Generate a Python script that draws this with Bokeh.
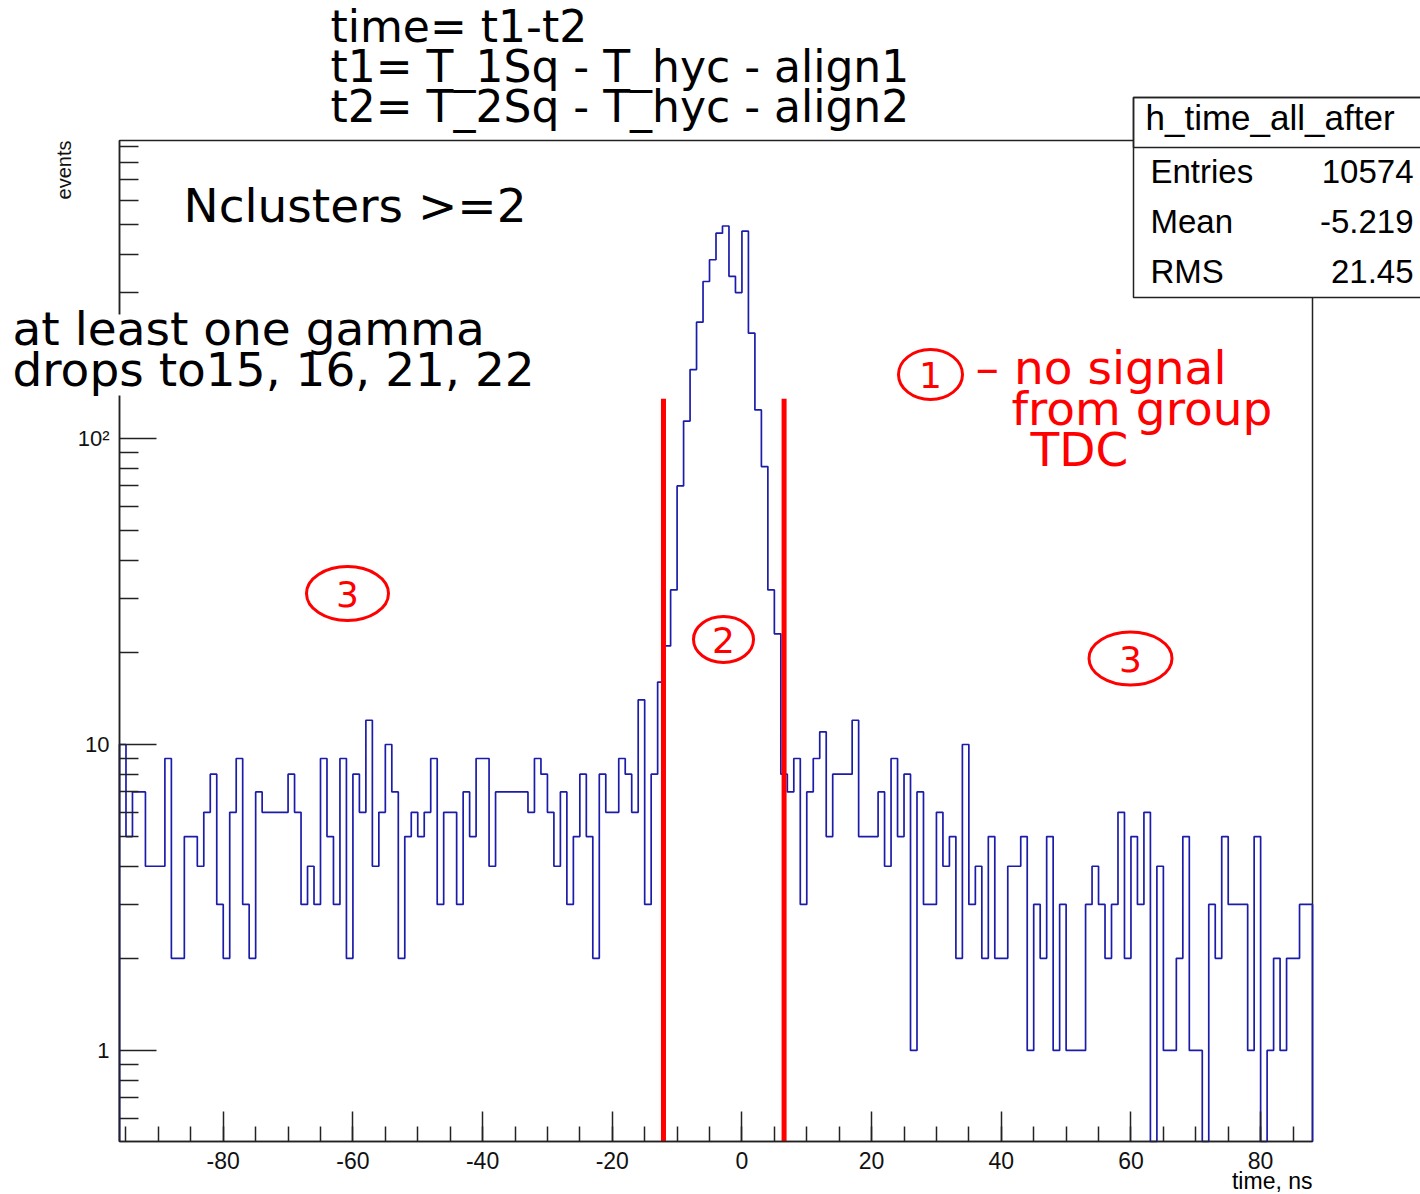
import math
import numpy as np
from bokeh.plotting import figure
from bokeh.models import Label, BoxAnnotation, FixedTicker, CustomJSTickFormatter, Range1d
from bokeh.embed import file_html
from bokeh.resources import INLINE

# ---------------- data ----------------
bin_low = -96          # lower edge of first bin (ns)
bin_width = 1          # ns
counts = [
    10, 5, 7, 7, 4, 4, 4, 9, 2, 2,          # -96 .. -87
    5, 5, 4, 6, 8, 3, 2, 6, 9, 3,           # -86 .. -77
    2, 7, 6, 6, 6, 6, 8, 6, 3, 4,           # -76 .. -67
    3, 9, 5, 3, 9, 2, 8, 6, 12, 4,          # -66 .. -57
    6, 10, 7, 2, 5, 6, 5, 6, 9, 3,          # -56 .. -47
    6, 6, 3, 7, 5, 9, 9, 4, 7, 7,           # -46 .. -37
    7, 7, 7, 6, 9, 8, 6, 4, 7, 3,           # -36 .. -27
    5, 8, 5, 2, 8, 6, 6, 9, 8, 6,           # -26 .. -17
    14, 3, 8, 16, 21, 32, 70, 114, 168, 240,  # -16 .. -7
    326, 384, 469, 495, 339, 300, 476, 221, 124, 81,  # -6 .. 3
    32, 23, 8, 7, 9, 3, 7, 9, 11, 5,        # 4 .. 13
    8, 8, 8, 12, 5, 5, 5, 7, 4, 9,          # 14 .. 23
    5, 8, 1, 7, 3, 3, 6, 4, 5, 2,           # 24 .. 33
    10, 3, 4, 2, 5, 2, 2, 4, 4, 5,          # 34 .. 43
    1, 3, 2, 5, 1, 3, 1, 1, 1, 3,           # 44 .. 53
    4, 3, 2, 3, 6, 2, 5, 3, 6, 0,           # 54 .. 63
    4, 1, 1, 2, 5, 1, 1, 0, 3, 2,           # 64 .. 73
    5, 3, 3, 3, 1, 5, 0, 1, 2, 1,           # 74 .. 83
    2, 2, 3, 3,                             # 84 .. 87
]
x_major = [-80, -60, -40, -20, 0, 20, 40, 60, 80]
x_minor = list(range(-95, 90, 5))
y_major = [1, 10, 100]
y_minor = [0.6, 0.7, 0.8, 0.9, 2, 3, 4, 5, 6, 7, 8, 9,
           20, 30, 40, 50, 60, 70, 80, 90, 200, 300, 400, 500, 600, 700, 800, 900]
cut_low, cut_high = -12.1, 6.5   # red cut lines (ns)
cut_top = 135
hist_name = "h_time_all_after"
stat_names = ["Entries", "Mean", "RMS"]
stat_values = ["10574", "-5.219", "21.45"]

# ---------------- geometry ----------------
X0, X1 = -96, 88          # histogram axis range
Y0, Y1 = 0.504, 942
W, H = 1420, 1194
FL, FR, FT, FB = 119, 1312, 140, 1141   # pad (axis box) in page pixels

# the figure frame spans the whole page; axes sit at fixed locations on the pad box
sx = (X1 - X0) / (FR - FL)
XL, XR = X0 - FL * sx, X1 + (W - FR) * sx
ly0, ly1 = math.log10(Y0), math.log10(Y1)
sy = (ly1 - ly0) / (FB - FT)
YB, YT = 10 ** (ly0 - (H - FB) * sy), 10 ** (ly1 + FT * sy)

p = figure(width=W, height=H, x_range=Range1d(XL, XR), y_range=Range1d(YB, YT),
           y_axis_type="log", output_backend="svg", toolbar_location=None,
           min_border=0, min_border_left=0, min_border_right=0, min_border_top=0,
           min_border_bottom=0)
p.xgrid.visible = False
p.ygrid.visible = False
p.background_fill_color = "white"
p.border_fill_color = "white"
p.outline_line_color = None

def dx(px):
    return XL + px * sx

def dy(py):
    return 10 ** (ly1 + (FT - py) * sy)

tick_font = "Liberation Sans"
big_font = "DejaVu Sans"
AX = "#222222"

# pad box (frame of the histogram)
p.add_layout(BoxAnnotation(left=X0, right=X1, bottom=Y0, top=Y1, fill_alpha=0.0,
                           line_color=AX, line_alpha=1.0, line_width=1.5, level="underlay"))

# x axis
xa = p.xaxis[0]
xa.fixed_location = Y0
xa.bounds = (X0, X1)
xa.ticker = FixedTicker(ticks=x_major, minor_ticks=x_minor)
xa.formatter = CustomJSTickFormatter(code="return tick.toFixed(0);")
xa.axis_line_color = AX
xa.axis_line_width = 1.5
xa.major_tick_in = 30
xa.major_tick_out = 0
xa.minor_tick_in = 15
xa.minor_tick_out = 0
xa.major_tick_line_color = AX
xa.minor_tick_line_color = AX
xa.major_tick_line_width = 1.5
xa.minor_tick_line_width = 1.5
xa.major_label_text_font = tick_font
xa.major_label_text_font_size = "23px"
xa.major_label_text_color = "#111111"
xa.major_label_standoff = 10
# y axis
ya = p.yaxis[0]
ya.fixed_location = X0
ya.bounds = (Y0, Y1)
ya.ticker = FixedTicker(ticks=y_major, minor_ticks=y_minor)
ya.formatter = CustomJSTickFormatter(code="""
    if (tick > 50) { return "10\\u00b2"; }
    return tick.toFixed(0);
""")
ya.axis_line_color = AX
ya.axis_line_width = 1.5
ya.major_tick_in = 37
ya.major_tick_out = 0
ya.minor_tick_in = 19
ya.minor_tick_out = 0
ya.major_tick_line_color = AX
ya.minor_tick_line_color = AX
ya.major_tick_line_width = 1.5
ya.minor_tick_line_width = 1.5
ya.major_label_text_font = tick_font
ya.major_label_text_font_size = "22px"
ya.major_label_text_color = "#111111"
ya.major_label_standoff = 10
ya.major_label_orientation = "horizontal"

# ---------------- histogram ----------------
edges = bin_low + np.arange(len(counts) + 1) * bin_width
cvals = np.array(counts, dtype=float)
draw_vals = np.maximum(cvals, Y0)    # empty bins drop to the bottom of the pad
xs = np.repeat(edges, 2)
ys = np.concatenate([[Y0], np.repeat(draw_vals, 2), [Y0]])
p.line(xs, ys, line_color="#1c1caa", line_width=1.7)

# red cut lines
p.segment(x0=[cut_low, cut_high], y0=[Y0] * 2, x1=[cut_low, cut_high], y1=[cut_top] * 2,
          line_color="#ff0000", line_width=5)

# circled region numbers
circ_x = [dx(347), dx(723), dx(1130), dx(930)]
circ_y = [dy(593), dy(639), dy(658), dy(374)]
circ_w = [82, 60, 83, 64]
circ_h = [54, 46, 53, 50]
circ_t = ["3", "2", "3", "1"]
p.ellipse(x=circ_x, y=circ_y, width=circ_w, height=circ_h, width_units="screen",
          height_units="screen", fill_color=None, line_color="#ff0000", line_width=3)
for cx, cy, t in zip(circ_x, circ_y, circ_t):
    p.add_layout(Label(x=cx, y=cy, text=t, text_align="center", text_baseline="middle",
                       text_font=big_font, text_font_size="36px", text_color="#ff0000"))

def lab(px, pbase, text, fs, color="#000000", font=big_font, align="left"):
    p.add_layout(Label(x=dx(px), y=dy(pbase - 0.36 * fs), text=text, text_align=align,
                       text_baseline="alphabetic", text_font=font,
                       text_font_size=f"{fs}px", text_color=color))

# red text
lab(975, 384, "\u2013 no signal", 47, color="#ff0000")
lab(1011, 425, "from group", 47, color="#ff0000")
lab(1030, 466, "TDC", 47, color="#ff0000")

# black texts (title block above the pad)
lab(330, 42, "time= t1-t2", 44)
lab(330, 82, "t1= T_1Sq - T_hyc - align1", 44)
lab(330, 122, "t2= T_2Sq - T_hyc - align2", 44)
lab(183, 222, "Nclusters >=2", 47)
# white pave behind the two-line note (it hides the axis there)
p.add_layout(BoxAnnotation(left=dx(4), right=dx(592), top=dy(314), bottom=dy(395),
                           fill_color="white", fill_alpha=1.0, line_alpha=0.0))
lab(12, 345, "at least one gamma", 47)
lab(12, 386, "drops to15, 16, 21, 22", 47)

# axis titles
lab(1312, 1189, "time, ns", 23, font=tick_font, align="right")
p.add_layout(Label(x=dx(63), y=dy(140), text="events", text_align="right",
                   text_baseline="alphabetic", text_font=tick_font, text_font_size="20px",
                   text_color="#111111", angle=math.pi / 2))

# stats box
p.add_layout(BoxAnnotation(left=dx(1133), right=dx(1440), top=dy(97), bottom=dy(297),
                           fill_color="white", fill_alpha=1.0, line_color=AX,
                           line_alpha=1.0, line_width=1.5))
p.add_layout(BoxAnnotation(left=dx(1133), right=dx(1440), top=dy(97), bottom=dy(147),
                           fill_alpha=0.0, line_color=AX, line_alpha=1.0, line_width=1.5))
lab(1145, 130, hist_name, 35, font=tick_font)
for i, (nm, vv) in enumerate(zip(stat_names, stat_values)):
    base = 183 + 50 * i
    lab(1150, base, nm, 33, font=tick_font)
    lab(1413, base, vv, 33, font=tick_font, align="right")

open("out.html", "w").write(file_html(p, INLINE))
